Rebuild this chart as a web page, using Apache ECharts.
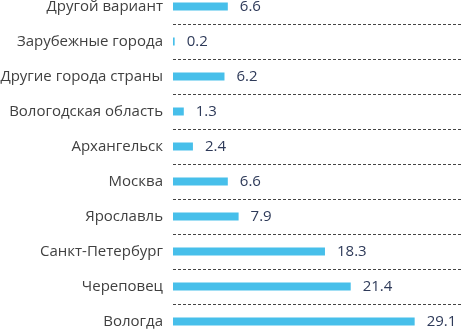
<!DOCTYPE html>
<html><head><meta charset="utf-8">
<script src="https://cdn.jsdelivr.net/npm/echarts@6/dist/echarts.min.js"></script>
<style>html,body{margin:0;padding:0;background:#fff;overflow:hidden;width:462px;height:330px}#c{width:462px;height:350px;position:absolute;left:0;top:-11px}</style>
</head><body><div id="c"></div>
<script>
var categories = ['Другой вариант','Зарубежные города','Другие города страны','Вологодская область','Архангельск','Москва','Ярославль','Санкт-Петербург','Череповец','Вологда'];
var values = [6.6, 0.2, 6.2, 1.3, 2.4, 6.6, 7.9, 18.3, 21.4, 29.1];
var chart = echarts.init(document.getElementById('c'), null, {renderer:'canvas'});
chart.setOption({
  animation:false,
  grid:{left:173, right:0, top:0, bottom:0, containLabel:false, outerBoundsMode:'none'},
  xAxis:{type:'value', min:0, max:34.8, show:false},
  yAxis:{type:'category', data:categories, inverse:true,
    axisLine:{show:false}, axisTick:{show:false},
    axisLabel:{margin:10, fontSize:15, color:'#404040', fontFamily:'Open Sans'},
    splitLine:{show:true, lineStyle:{type:[3,2], color:'#444', width:1}}
  },
  series:[{type:'bar', data:values, barWidth:8, itemStyle:{color:'#47bfea'},
    label:{show:true, position:'right', distance:12, fontSize:15, color:'#2e3a59', fontFamily:'Open Sans',
      formatter:function(p){return p.value.toFixed(1);}}
  }]
});
</script></body></html>
